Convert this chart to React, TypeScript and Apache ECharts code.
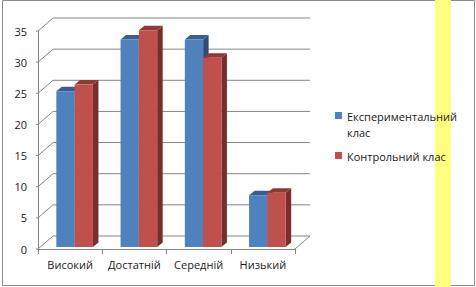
import React, { useEffect, useRef } from "react";
import * as echarts from "echarts";

const categories = ["Високий", "Достатній", "Середній", "Низький"];
const seriesNames = ["Експериментальний клас", "Контрольний клас"];
const experimental = [25, 33.3, 33.3, 8.3];
const control = [26.1, 34.8, 30.4, 8.7];
const yTicks = [0, 5, 10, 15, 20, 25, 30, 35];

const FONT = "'Open Sans', 'Noto Sans', sans-serif";
const GRID_COLOR = "#868686";
const faceColors = [
  { front: "#4f81bd", top: "#3a5f8f", side: "#2f4d74" },
  { front: "#c0504d", top: "#8e3a38", side: "#7a2e2c" },
];

const WALL_DX = 15;
const WALL_DY = -13;
const BAR_DX = 5.5;
const BAR_DY = -4.5;

export default function App() {
  const ref = useRef<HTMLDivElement>(null);
  useEffect(() => {
    if (!ref.current) return;
    const chart = echarts.init(ref.current, null, { renderer: "svg" });

    const wallSeries = {
      type: "custom",
      name: "walls",
      silent: true,
      clip: false,
      z: 1,
      data: yTicks.map((v) => [0, v]),
      renderItem: (params: any, api: any) => {
        const v = api.value(1);
        const cs = params.coordSys;
        const y = api.coord([0, v])[1];
        const x0 = cs.x;
        const xr = cs.x + cs.width;
        const ls = { stroke: GRID_COLOR, lineWidth: 1 };
        const children: any[] = [
          { type: "line", shape: { x1: x0 - 2, y1: y, x2: x0, y2: y }, style: ls },
          { type: "line", shape: { x1: x0, y1: y, x2: x0 + WALL_DX, y2: y + WALL_DY }, style: ls },
          { type: "line", shape: { x1: x0 + WALL_DX, y1: y + WALL_DY, x2: xr + WALL_DX, y2: y + WALL_DY }, style: ls },
        ];
        if (v === 0) {
          children.push({ type: "line", shape: { x1: xr, y1: y, x2: xr + WALL_DX, y2: y + WALL_DY }, style: ls });
        }
        return { type: "group", children };
      },
    };

    const makeBarSeries = (idx: number, values: number[]) => ({
      type: "custom",
      name: seriesNames[idx],
      clip: false,
      z: 2 + idx,
      itemStyle: { color: faceColors[idx].front },
      data: values.map((v, i) => [i, v]),
      renderItem: (params: any, api: any) => {
        const cat = api.value(0);
        const val = api.value(1);
        const base = api.coord([cat, 0]);
        const top = api.coord([cat, val]);
        const cw = api.size([1, 0])[0];
        const bw = cw * 0.285;
        const cx = base[0] + 4.5;
        const xl = idx === 0 ? cx - bw : cx;
        const xr = xl + bw;
        const yb = base[1] - 2;
        const yt = top[1] - 2;
        const c = faceColors[idx];
        return {
          type: "group",
          children: [
            {
              type: "polygon",
              shape: { points: [[xr, yt], [xr + BAR_DX, yt + BAR_DY], [xr + BAR_DX, yb + BAR_DY], [xr, yb]] },
              style: { fill: c.side },
            },
            {
              type: "polygon",
              shape: { points: [[xl, yt], [xl + BAR_DX, yt + BAR_DY], [xr + BAR_DX, yt + BAR_DY], [xr, yt]] },
              style: { fill: c.top },
            },
            {
              type: "rect",
              shape: { x: xl, y: yt, width: bw, height: yb - yt },
              style: { fill: c.front },
            },
          ],
        };
      },
    });

    const legendX = 335;
    const legendTextX = 347;

    chart.setOption({
      animation: false,
      backgroundColor: "#ffffff",
      grid: { left: 38, top: 31, width: 257, height: 218, containLabel: false },
      xAxis: {
        type: "category",
        data: categories,
        axisLine: { show: true, lineStyle: { color: GRID_COLOR, width: 1 } },
        axisTick: { show: true, length: 5, lineStyle: { color: GRID_COLOR } },
        axisLabel: { color: "#1a1a1a", fontFamily: FONT, fontSize: 11, margin: 10, interval: 0 },
        splitLine: { show: false },
      },
      yAxis: {
        type: "value",
        min: 0,
        max: 35,
        interval: 5,
        axisLine: { show: true, lineStyle: { color: GRID_COLOR, width: 1 } },
        axisTick: { show: false },
        axisLabel: { color: "#1a1a1a", fontFamily: FONT, fontSize: 11, margin: 11 },
        splitLine: { show: false },
      },
      series: [wallSeries, makeBarSeries(0, experimental), makeBarSeries(1, control)],
      graphic: [
        {
          type: "rect",
          silent: true,
          z: 9,
          shape: { x: 2.5, y: 0.5, width: 472, height: 285 },
          style: { fill: "none", stroke: "#8a8a8a", lineWidth: 1 },
        },
        {
          type: "rect",
          silent: true,
          z: 10,
          shape: { x: 435, y: 0, width: 16, height: 287 },
          style: { fill: "#ffff80" },
        },
        {
          type: "rect",
          z: 11,
          shape: { x: legendX, y: 112, width: 7, height: 7 },
          style: { fill: faceColors[0].front },
        },
        {
          type: "text",
          z: 11,
          x: legendTextX,
          y: 108,
          style: {
            text: seriesNames[0].replace(" ", "\n"),
            fill: "#1a1a1a",
            font: `11px ${FONT}`,
            lineHeight: 16,
            verticalAlign: "top",
          },
        },
        {
          type: "rect",
          z: 11,
          shape: { x: legendX, y: 152, width: 7, height: 7 },
          style: { fill: faceColors[1].front },
        },
        {
          type: "text",
          z: 11,
          x: legendTextX,
          y: 148,
          style: {
            text: seriesNames[1],
            fill: "#1a1a1a",
            font: `11px ${FONT}`,
            lineHeight: 16,
            verticalAlign: "top",
          },
        },
      ],
    });
    return () => chart.dispose();
  }, []);

  return (
    <div
      ref={ref}
      style={{ position: "fixed", left: 0, top: 0, width: 476, height: 287 }}
    />
  );
}
